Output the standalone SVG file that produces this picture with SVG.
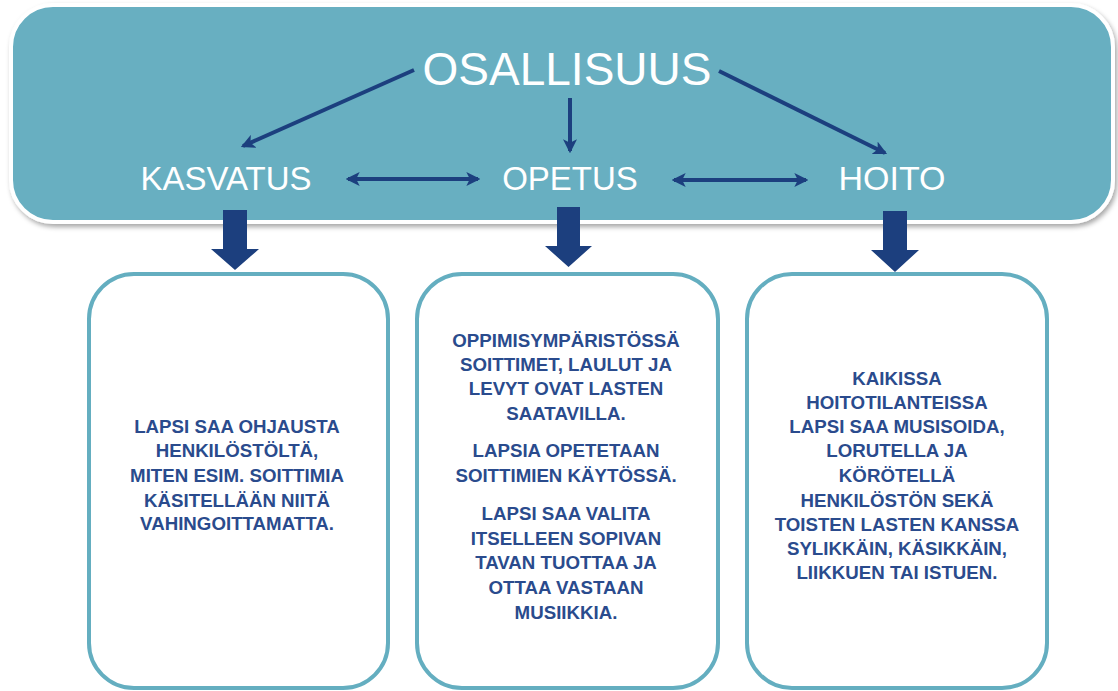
<svg xmlns="http://www.w3.org/2000/svg" width="1118" height="691" viewBox="0 0 1118 691">
<defs>
<style>
.title{font-family:"Liberation Sans",Arial,sans-serif;fill:#fff;text-anchor:middle}
.body{font-family:"Liberation Sans",Arial,sans-serif;font-weight:bold;font-size:18.7px;fill:#2A4B8D;text-anchor:middle}
.conn{stroke:#1C3F7E;stroke-width:4;fill:none}
.box{fill:#fff;stroke:#64AEC0;stroke-width:4}
.block{fill:#1C3F7E}
</style>
<marker id="ah" viewBox="0 0 12 12" refX="10" refY="6" markerWidth="14" markerHeight="14" markerUnits="userSpaceOnUse" orient="auto-start-reverse">
<path d="M0,0 L12,6 L0,12 L3,6 Z" fill="#1C3F7E"/>
</marker>
<filter id="sh" x="-5%" y="-5%" width="110%" height="120%">
<feDropShadow dx="2" dy="3" stdDeviation="2.5" flood-color="#000" flood-opacity="0.35"/>
</filter>
</defs>
<rect width="1118" height="691" fill="#fff"/>
<g id="banner">
<rect x="11" y="5" width="1102" height="217" rx="42" fill="#67AFC1" stroke="#fff" stroke-width="4" filter="url(#sh)"/>
</g>
<g id="osallisuus"><text class="title" x="567" y="85" font-size="46">OSALLISUUS</text></g>
<g id="kasvatus"><text class="title" x="226" y="190" font-size="33">KASVATUS</text></g>
<g id="opetus"><text class="title" x="570" y="190" font-size="33">OPETUS</text></g>
<g id="hoito"><text class="title" x="892" y="190" font-size="34">HOITO</text></g>
<g id="connectors">
<line class="conn" x1="414" y1="70" x2="243" y2="146" marker-end="url(#ah)"/>
<line class="conn" x1="570" y1="98" x2="570" y2="151" marker-end="url(#ah)"/>
<line class="conn" x1="719" y1="71" x2="885" y2="153" marker-end="url(#ah)"/>
<line class="conn" x1="348" y1="179" x2="478" y2="179" marker-start="url(#ah)" marker-end="url(#ah)"/>
<line class="conn" x1="674" y1="180" x2="806" y2="180" marker-start="url(#ah)" marker-end="url(#ah)"/>
<path class="block" d="M223,210 H247 V249 H259 L235,270 L211,249 H223 Z"/>
<path class="block" d="M557,207 H580 V246 H592 L568.5,267 L545,246 H557 Z"/>
<path class="block" d="M883,211 H907 V250 H919 L895,272 L871,250 H883 Z"/>
</g>
<g id="box-kasvatus">
<rect class="box" x="89" y="274" width="299" height="414" rx="45"/>
<text class="body" x="237" y="433">LAPSI SAA OHJAUSTA</text>
<text class="body" x="237" y="457">HENKILÖSTÖLTÄ,</text>
<text class="body" x="237" y="482">MITEN ESIM. SOITTIMIA</text>
<text class="body" x="237" y="507">KÄSITELLÄÄN NIITÄ</text>
<text class="body" x="237" y="530">VAHINGOITTAMATTA.</text>
</g>
<g id="box-opetus">
<rect class="box" x="417" y="274" width="301" height="414" rx="45"/>
<text class="body" x="566" y="347">OPPIMISYMPÄRISTÖSSÄ</text>
<text class="body" x="566" y="371">SOITTIMET, LAULUT JA</text>
<text class="body" x="566" y="395">LEVYT OVAT LASTEN</text>
<text class="body" x="566" y="420">SAATAVILLA.</text>
<text class="body" x="566" y="457">LAPSIA OPETETAAN</text>
<text class="body" x="566" y="482">SOITTIMIEN KÄYTÖSSÄ.</text>
<text class="body" x="566" y="520">LAPSI SAA VALITA</text>
<text class="body" x="566" y="545">ITSELLEEN SOPIVAN</text>
<text class="body" x="566" y="569">TAVAN TUOTTAA JA</text>
<text class="body" x="566" y="594">OTTAA VASTAAN</text>
<text class="body" x="566" y="619">MUSIIKKIA.</text>
</g>
<g id="box-hoito">
<rect class="box" x="747" y="274" width="300" height="414" rx="45"/>
<text class="body" x="897" y="385">KAIKISSA</text>
<text class="body" x="897" y="409">HOITOTILANTEISSA</text>
<text class="body" x="897" y="433">LAPSI SAA MUSISOIDA,</text>
<text class="body" x="897" y="457">LORUTELLA JA</text>
<text class="body" x="897" y="482">KÖRÖTELLÄ</text>
<text class="body" x="897" y="507">HENKILÖSTÖN SEKÄ</text>
<text class="body" x="897" y="531">TOISTEN LASTEN KANSSA</text>
<text class="body" x="897" y="555">SYLIKKÄIN, KÄSIKKÄIN,</text>
<text class="body" x="897" y="579">LIIKKUEN TAI ISTUEN.</text>
</g>
</svg>
